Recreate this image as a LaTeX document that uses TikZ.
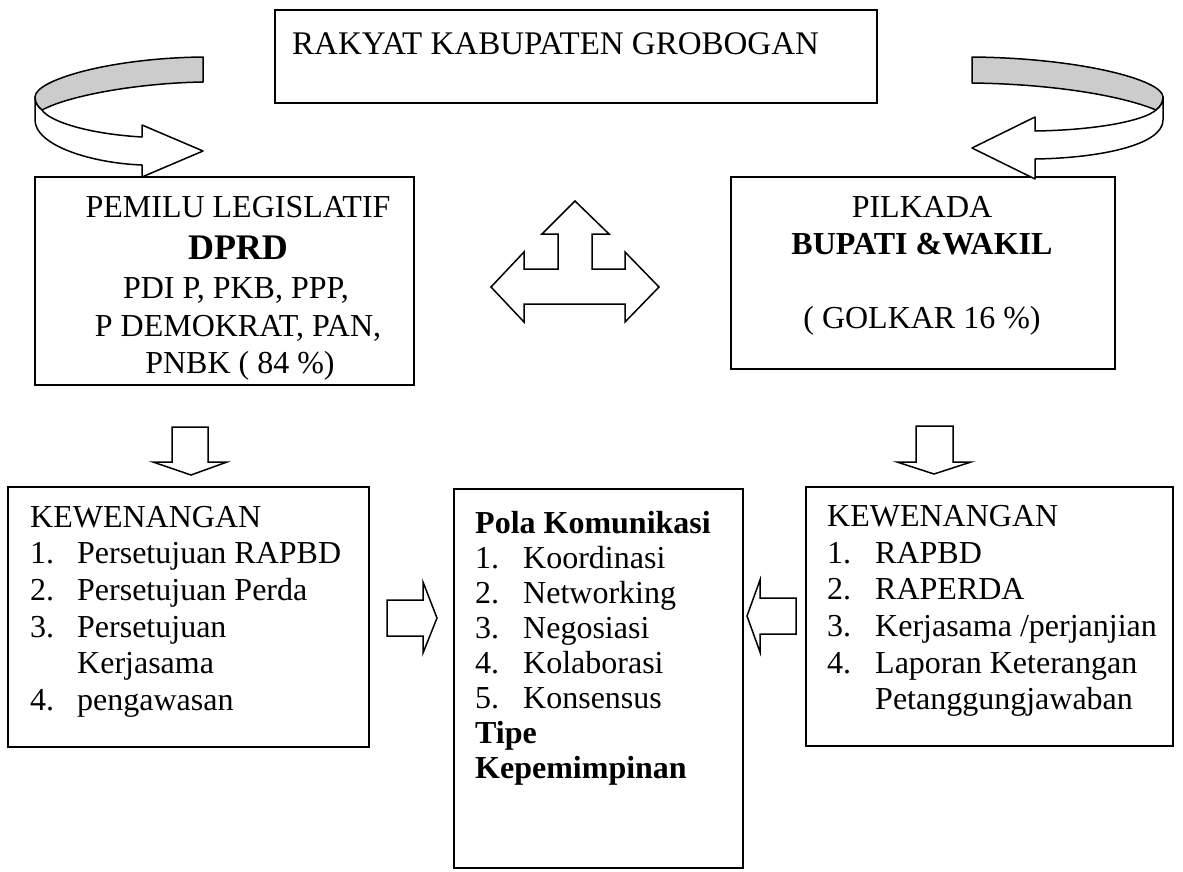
\documentclass[tikz,border=0pt]{standalone}
\usepackage{fontspec}
\setmainfont{Liberation Serif}
\definecolor{ribbon}{HTML}{CCCCCC}
\begin{document}
\begin{tikzpicture}[x=1pt,y=-1pt,
  box/.style={draw, line width=2pt, inner sep=0pt, outer sep=0pt, anchor=north west},
  blk/.style={draw, line width=1.5pt, fill=white, line join=miter},
  txt/.style={inner sep=0pt, anchor=base west, font=\fontsize{32}{36.6}\selectfont},
  ctr/.style={inner sep=0pt, anchor=base, font=\fontsize{32}{36.6}\selectfont},
  mid/.style={inner sep=0pt, anchor=base west, font=\fontsize{32}{35}\selectfont}]
\useasboundingbox (0,0) rectangle (1183,871);

% boxes
\node[box, minimum width=602pt, minimum height=93pt] (top) at (275,10) {};
\node[box, minimum width=379pt, minimum height=208pt] (leg) at (35,177) {};
\node[box, minimum width=384pt, minimum height=192pt] (pil) at (731,177) {};
\node[box, minimum width=361pt, minimum height=260pt] (kwl) at (8,487) {};
\node[box, minimum width=289pt, minimum height=379pt] (pola) at (454,489) {};
\node[box, minimum width=367pt, minimum height=259pt] (kwr) at (806,487) {};

% texts
\node[txt, font=\fontsize{33}{38}\selectfont] (ttop) at (292,54) {RAKYAT KABUPATEN GROBOGAN};

\node[ctr] (l1) at (238,217.7) {PEMILU LEGISLATIF};
\node[ctr, font=\fontsize{36}{40}\selectfont\bfseries] (l2) at (238,259) {DPRD};
\node[ctr] (l3) at (236,298) {PDI P, PKB, PPP,};
\node[ctr] (l4) at (238,336) {P DEMOKRAT, PAN,};
\node[ctr] (l5) at (240,373) {PNBK ( 84 \%)};

\node[ctr] (r1) at (922,217) {PILKADA};
\node[ctr, font=\fontsize{32}{36}\selectfont\bfseries] (r2) at (922,254) {BUPATI \&WAKIL};
\node[ctr] (r3) at (922,328) {( GOLKAR 16 \%)};

\node[txt] (kwltext) at (30,527.3) {\begin{tabular}[t]{@{}p{47pt}@{}l@{}}
\multicolumn{2}{@{}l@{}}{KEWENANGAN}\\
1. & Persetujuan RAPBD\\
2. & Persetujuan Perda\\
3. & Persetujuan\\
   & Kerjasama\\
4. & pengawasan
\end{tabular}};

\node[mid] (polatext) at (475,533) {\begin{tabular}[t]{@{}p{48pt}@{}l@{}}
\multicolumn{2}{@{}l@{}}{\bfseries Pola Komunikasi}\\
1. & Koordinasi\\
2. & Networking\\
3. & Negosiasi\\
4. & Kolaborasi\\
5. & Konsensus\\
\multicolumn{2}{@{}l@{}}{\bfseries Tipe}\\
\multicolumn{2}{@{}l@{}}{\bfseries Kepemimpinan}
\end{tabular}};

\node[txt] (kwrtext) at (827,526.7) {\begin{tabular}[t]{@{}p{48pt}@{}l@{}}
\multicolumn{2}{@{}l@{}}{KEWENANGAN}\\
1. & RAPBD\\
2. & RAPERDA\\
3. & Kerjasama /perjanjian\\
4. & Laporan Keterangan\\
   & Petanggungjawaban
\end{tabular}};

% curved arrow top left
\draw[line width=1.5pt, fill=ribbon, line join=round]
  (203,57) .. controls (110,58) and (35,80) .. (35,97)
  .. controls (35,103) and (38,107) .. (42,110)
  .. controls (70,95) and (140,83) .. (203,82) -- cycle;
\draw[blk, line join=round]
  (35,97) -- (35,120) .. controls (35,145) and (90,163) .. (142,165)
  -- (142,177) -- (203,151) -- (142,125) -- (142,137)
  .. controls (90,134) and (50,122) .. (42,110)
  .. controls (38,107) and (35,103) .. (35,97) -- cycle;

% curved arrow top right
\draw[line width=1.5pt, fill=ribbon, line join=round]
  (972,57) .. controls (1080,58) and (1163,80) .. (1163,97)
  .. controls (1163,103) and (1160,107) .. (1156,110)
  .. controls (1120,95) and (1050,84) .. (972,83) -- cycle;
\draw[blk, line join=round]
  (1163,97) -- (1163,120) .. controls (1163,145) and (1100,158) .. (1035,159)
  -- (1035,179) -- (972,148) -- (1035,117) -- (1035,131)
  .. controls (1100,130) and (1145,120) .. (1156,110)
  .. controls (1160,107) and (1163,103) .. (1163,97) -- cycle;

% triple arrow
\draw[blk] (575,201) -- (609,234) -- (592,234) -- (592,269) -- (625,269) -- (625,252)
  -- (659,287) -- (625,322) -- (625,304) -- (524,304) -- (524,322) -- (491,287)
  -- (524,252) -- (524,269) -- (558,269) -- (558,234) -- (542,234) -- cycle;

% down arrows
\draw[blk] (172,427) -- (208,427) -- (208,462) -- (227,462) -- (191,475) -- (153,462) -- (172,462) -- cycle;
\draw[blk] (916,426) -- (953,426) -- (953,462) -- (971,462) -- (934,474) -- (897,462) -- (916,462) -- cycle;

% side arrows
\draw[blk] (387,600) -- (423,600) -- (423,582) -- (437,618) -- (423,653) -- (423,636) -- (387,636) -- cycle;
\draw[blk] (796,598) -- (760,598) -- (760,580) -- (747,616) -- (760,652) -- (760,634) -- (796,634) -- cycle;
\end{tikzpicture}
\end{document}
